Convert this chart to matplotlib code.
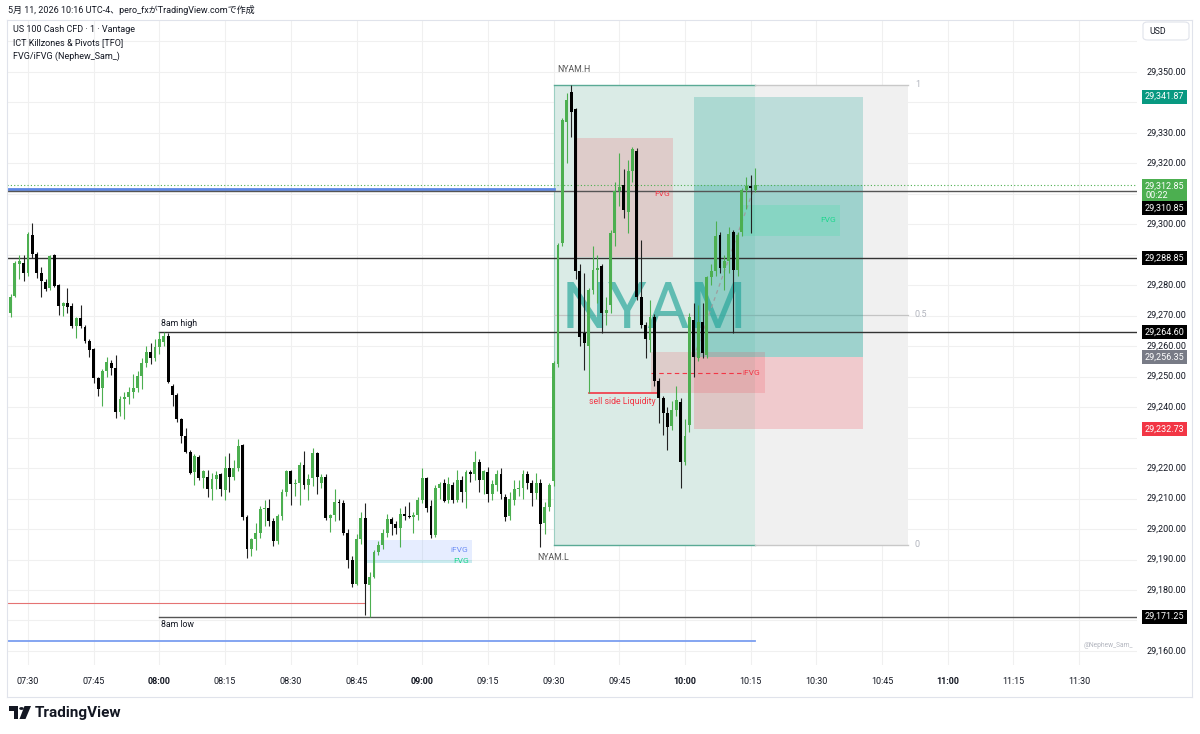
import numpy as np
import matplotlib
matplotlib.use("Agg")
import matplotlib.pyplot as plt
from matplotlib.patches import Rectangle, Circle, Polygon, FancyBboxPatch
from matplotlib.transforms import blended_transform_factory

plt.rcParams['font.family'] = ['Roboto', 'Noto Sans CJK JP', 'DejaVu Sans']

# 1-minute candles, US 100 Cash CFD, first bar 07:26
start_time = "07:26"
opens = [29271.0, 29276.5, 29287.0, 29287.2, 29284.0, 29296.6, 29290.2, 29283.9, 29281.2, 29279.0,
         29289.9, 29280.1, 29273.2, 29274.0, 29273.2, 29266.5, 29269.1, 29266.4, 29261.8, 29259.0,
         29249.4, 29246.4, 29251.9, 29254.5, 29252.7, 29238.5, 29242.8, 29243.2, 29244.8, 29246.4,
         29250.1, 29254.6, 29258.2, 29256.0, 29259.8, 29261.5, 29263.2, 29247.0, 29244.0, 29236.0,
         29230.5, 29225.4, 29218.7, 29223.8, 29216.7, 29217.0, 29213.3, 29216.5, 29218.0, 29212.8,
         29220.0, 29217.2, 29220.0, 29227.6, 29204.1, 29193.3, 29196.6, 29198.8, 29206.5, 29207.0,
         29202.8, 29196.0, 29204.3, 29212.0, 29218.9, 29214.8, 29215.0, 29221.0, 29214.5, 29216.6,
         29224.8, 29215.0, 29217.0, 29203.5, 29204.5, 29209.0, 29208.6, 29198.6, 29190.0, 29182.0,
         29196.6, 29203.5, 29181.7, 29184.4, 29192.6, 29194.7, 29198.6, 29203.2, 29201.5, 29200.3,
         29204.9, 29204.3, 29204.0, 29204.5, 29209.5, 29216.8, 29207.6, 29198.1, 29213.4, 29215.0,
         29209.5, 29214.5, 29209.5, 29216.0, 29212.0, 29218.6, 29218.0, 29222.0, 29216.0, 29218.8,
         29211.5, 29214.5, 29218.0, 29210.6, 29204.2, 29209.5, 29213.1, 29213.4, 29218.0, 29215.0,
         29211.7, 29215.0, 29201.9, 29207.3, 29215.9, 29254.2, 29294.0, 29333.7, 29343.5, 29337.7,
         29284.5, 29264.2, 29260.0, 29278.4, 29285.0, 29286.3, 29271.0, 29273.5, 29297.2, 29310.9,
         29312.9, 29304.1, 29317.5, 29324.1, 29276.0, 29267.0, 29261.9, 29269.5, 29248.7, 29242.9,
         29238.0, 29233.7, 29239.0, 29241.8, 29222.1, 29234.1, 29268.6, 29256.1, 29268.0, 29257.1,
         29282.6, 29284.5, 29296.6, 29285.7, 29288.0, 29297.4, 29285.0, 29297.4, 29311.3, 29312.6,
         29311.3]
highs = [29277.0, 29288.0, 29290.0, 29290.0, 29297.6, 29300.3, 29291.0, 29286.0, 29282.0, 29290.0,
         29290.2, 29280.5, 29274.5, 29279.0, 29274.0, 29269.5, 29273.5, 29267.0, 29262.5, 29259.5,
         29250.0, 29252.5, 29256.5, 29255.5, 29257.0, 29243.5, 29245.0, 29246.5, 29251.0, 29252.0,
         29256.0, 29260.0, 29261.0, 29262.5, 29264.6, 29264.6, 29264.2, 29247.5, 29244.5, 29236.5,
         29233.0, 29226.0, 29224.5, 29224.2, 29219.5, 29219.5, 29218.5, 29219.0, 29218.5, 29224.0,
         29225.0, 29222.5, 29229.5, 29228.0, 29204.5, 29197.0, 29202.0, 29207.5, 29209.5, 29210.0,
         29203.5, 29205.0, 29213.0, 29219.5, 29219.5, 29216.5, 29222.0, 29225.7, 29218.0, 29226.5,
         29225.3, 29218.0, 29218.0, 29205.0, 29213.0, 29210.0, 29209.5, 29200.0, 29191.0, 29198.5,
         29205.5, 29208.5, 29186.0, 29193.0, 29196.0, 29200.0, 29205.0, 29204.0, 29202.5, 29207.0,
         29207.5, 29209.0, 29205.5, 29210.5, 29220.0, 29217.0, 29209.5, 29214.5, 29215.5, 29216.5,
         29217.0, 29215.5, 29219.5, 29217.5, 29219.5, 29219.5, 29225.5, 29223.0, 29219.5, 29220.5,
         29216.0, 29219.5, 29220.0, 29211.5, 29212.0, 29216.0, 29216.0, 29219.5, 29219.0, 29216.0,
         29218.5, 29216.5, 29209.0, 29215.0, 29255.0, 29294.0, 29335.0, 29343.0, 29345.7, 29338.0,
         29287.0, 29284.0, 29279.0, 29293.0, 29290.0, 29287.0, 29276.0, 29298.0, 29314.0, 29323.3,
         29318.0, 29321.0, 29325.3, 29325.0, 29294.8, 29268.0, 29275.0, 29270.5, 29249.5, 29243.5,
         29240.0, 29242.0, 29247.0, 29243.0, 29236.0, 29271.0, 29274.0, 29273.5, 29274.0, 29283.0,
         29287.0, 29301.0, 29297.5, 29290.0, 29299.0, 29298.0, 29297.5, 29312.0, 29315.5, 29316.0,
         29318.5]
lows = [29269.5, 29276.0, 29282.0, 29281.5, 29283.0, 29289.0, 29282.5, 29276.0, 29278.0, 29278.5,
        29279.5, 29270.2, 29270.0, 29271.0, 29266.0, 29262.7, 29266.0, 29261.0, 29256.5, 29248.0,
        29243.5, 29240.5, 29250.0, 29250.5, 29236.5, 29237.0, 29236.0, 29241.0, 29243.0, 29245.0,
        29246.0, 29253.0, 29254.0, 29255.0, 29257.5, 29260.0, 29248.0, 29240.4, 29235.0, 29228.2,
        29225.0, 29218.0, 29214.5, 29216.0, 29213.5, 29210.5, 29209.5, 29213.0, 29211.0, 29209.5,
        29212.0, 29216.0, 29219.0, 29203.0, 29190.4, 29191.0, 29193.0, 29197.0, 29201.0, 29201.0,
        29194.5, 29195.0, 29203.0, 29211.0, 29208.0, 29211.0, 29208.0, 29213.0, 29209.5, 29214.0,
        29211.5, 29213.5, 29203.0, 29199.0, 29202.5, 29203.0, 29198.0, 29187.2, 29181.0, 29181.5,
        29195.0, 29171.8, 29171.25, 29184.0, 29191.5, 29193.5, 29197.5, 29198.0, 29198.5, 29194.2,
        29203.0, 29203.5, 29198.7, 29203.0, 29208.5, 29205.5, 29197.0, 29197.5, 29210.0, 29209.0,
        29208.5, 29208.5, 29209.0, 29209.0, 29207.0, 29215.5, 29216.0, 29212.0, 29211.5, 29209.0,
        29209.5, 29212.5, 29210.0, 29202.5, 29203.0, 29208.0, 29211.0, 29210.0, 29213.0, 29207.5,
        29210.0, 29194.2, 29198.5, 29206.0, 29214.0, 29253.0, 29293.0, 29320.0, 29328.7, 29282.0,
        29260.0, 29252.2, 29244.5, 29277.0, 29274.0, 29264.3, 29267.0, 29271.0, 29293.0, 29306.0,
        29302.0, 29297.0, 29314.0, 29275.0, 29266.0, 29256.0, 29258.0, 29247.0, 29234.8, 29231.0,
        29226.0, 29232.5, 29237.0, 29213.4, 29221.0, 29232.0, 29250.0, 29255.0, 29256.0, 29256.0,
        29280.0, 29283.0, 29284.0, 29278.4, 29284.0, 29264.3, 29283.0, 29296.0, 29305.0, 29297.0,
        29310.5]
closes = [29276.0, 29287.3, 29287.8, 29284.0, 29296.8, 29290.2, 29283.9, 29281.5, 29278.7, 29289.6,
          29279.8, 29273.2, 29274.1, 29273.0, 29266.6, 29269.1, 29266.5, 29261.8, 29258.8, 29249.4,
          29246.1, 29251.9, 29254.9, 29252.7, 29238.5, 29242.8, 29243.2, 29244.8, 29246.4, 29250.1,
          29254.6, 29258.2, 29256.0, 29259.8, 29262.5, 29263.2, 29248.4, 29244.0, 29236.0, 29230.5,
          29225.4, 29218.3, 29224.0, 29216.7, 29219.0, 29213.3, 29216.5, 29217.7, 29213.0, 29220.0,
          29217.2, 29220.0, 29227.3, 29204.1, 29193.3, 29196.6, 29198.8, 29206.5, 29207.0, 29202.8,
          29196.0, 29204.3, 29212.0, 29218.9, 29214.8, 29215.2, 29221.0, 29214.5, 29216.5, 29224.8,
          29217.0, 29217.0, 29203.5, 29204.5, 29209.0, 29208.6, 29198.6, 29190.0, 29182.1, 29196.6,
          29203.5, 29182.1, 29184.4, 29192.6, 29194.7, 29198.6, 29203.2, 29201.5, 29200.3, 29204.9,
          29204.3, 29204.0, 29204.5, 29209.5, 29216.8, 29206.8, 29198.1, 29213.4, 29214.7, 29209.3,
          29214.8, 29209.5, 29216.0, 29212.0, 29218.6, 29218.1, 29222.0, 29216.0, 29219.1, 29211.5,
          29214.8, 29218.0, 29211.4, 29204.0, 29209.9, 29213.1, 29213.4, 29218.1, 29215.0, 29211.7,
          29215.0, 29201.6, 29207.3, 29214.5, 29254.4, 29293.2, 29334.2, 29340.7, 29336.9, 29284.8,
          29262.9, 29261.2, 29278.4, 29285.0, 29285.7, 29271.0, 29272.0, 29297.2, 29310.9, 29312.3,
          29304.7, 29317.5, 29324.6, 29276.0, 29267.0, 29262.3, 29269.5, 29248.7, 29242.9, 29238.0,
          29233.6, 29239.0, 29242.3, 29222.1, 29230.5, 29269.6, 29256.4, 29268.0, 29257.9, 29282.6,
          29284.5, 29296.3, 29285.7, 29288.0, 29296.8, 29285.0, 29296.6, 29311.3, 29312.5, 29312.0,
          29312.85]

time_ticks = ["07:30", "07:45", "08:00", "08:15", "08:30", "08:45", "09:00", "09:15", "09:30",
              "09:45", "10:00", "10:15", "10:30", "10:45", "11:00", "11:15", "11:30"]
price_ticks = [29160, 29180, 29190, 29200, 29210, 29220, 29240, 29250, 29260, 29270,
               29280, 29300, 29320, 29330, 29350]

# key levels
prev_level = 29310.85
current_price = 29312.85
level_2888 = 29288.85
am8_high = 29264.60
am8_low = 29171.25
nyam_high = 29345.7
nyam_low = 29194.8
red_level = 29175.7
blue_low_level = 29163.3
blue_high_level = 29311.4
ssl_level = 29244.5

# long position tool
entry_price = 29256.35
target_price = 29341.87
stop_price = 29232.73

# fair value gaps (start, end, top, bottom)
fvg_bear = ("09:35", "09:57", 29328.2, 29289.2)
ifvg_red = ("09:52", "10:18", 29258.2, 29244.5)
fvg_bull = ("10:13", "10:35", 29306.3, 29296.3)
ifvg_blue = ("08:47", "09:11", 29196.4, 29188.8)

axis_labels = [29341.87, 29312.85, 29310.85, 29288.85, 29264.60, 29256.35, 29232.73, 29171.25]
axis_label_colors = ['#089981', '#4caf50', '#000000', '#000000', '#000000', '#787b86', '#f23645', '#000000']
axis_label_shift = [0, -4, -12, 0, 0, 0, 0, 0]   # points, stacked labels


def tm(s):
    h, m = s.split(":")
    return int(h) * 60 + int(m)


W, H = 1200, 734


def fx(px):
    return px / W


def fy(py):
    return 1 - py / H


o = np.array(opens)
hi = np.array(highs)
lo = np.array(lows)
c = np.array(closes)
x = tm(start_time) + np.arange(len(o))

fig = plt.figure(figsize=(12, 7.34), dpi=100)
fig.patch.set_facecolor("white")
ax = fig.add_axes([fx(7), fy(665), fx(1137) - fx(7), fy(20) - fy(665)])
ax.set_xlim(445.2, 703.2)
ax.set_ylim(29155.4, 29367.0)
for s in ax.spines.values():
    s.set_visible(False)
ax.set_xticks([])
ax.set_yticks([])

# grid
for t in time_ticks:
    ax.axvline(tm(t), color="#f0f0f0", lw=0.8, zorder=0)
for p in range(29160, 29370, 10):
    ax.axhline(p, color="#f0f0f0", lw=0.8, zorder=0)

t_open = tm("09:30")
t_last = x[-1]
t_fib_end = tm("10:51")

# fib box + NYAM box
ax.add_patch(Rectangle((t_open, nyam_low), t_fib_end - t_open, nyam_high - nyam_low,
                       fc="#f0f0f0", ec="none", zorder=1))
ax.add_patch(Rectangle((t_open, nyam_low), t_last - t_open, nyam_high - nyam_low,
                       fc="#daebe6", ec="none", zorder=1.2))
ax.plot([t_open, t_open], [nyam_low, nyam_high], color="#9ccfc2", lw=0.8, zorder=1.3)
for lvl in (nyam_high, nyam_low):
    ax.plot([t_open, t_last], [lvl, lvl], color="#5aaa95", lw=1.0, zorder=1.3)
    ax.plot([t_last, t_fib_end], [lvl, lvl], color="#c8c8c8", lw=1.0, zorder=1.3)
mid = (nyam_high + nyam_low) / 2
ax.plot([t_open, t_fib_end], [mid, mid], color="#c4c4c4", lw=0.9, zorder=1.3)
for lvl, txt in ((nyam_high, "1"), (mid, "0.5"), (nyam_low, "0")):
    ax.text(t_fib_end + 1.5, lvl, txt, color="#b2b5be", fontsize=6.5, va="center", zorder=7)

# long position
t_lp0, t_lp1 = tm("10:02"), tm("10:40") + 0.6
ax.add_patch(Rectangle((t_lp0, entry_price), t_lp1 - t_lp0, target_price - entry_price,
                       fc="#26a69a", alpha=0.25, ec="none", zorder=2))
ax.add_patch(Rectangle((t_lp0, entry_price), t_lp1 - t_lp0, current_price - entry_price,
                       fc="#26a69a", alpha=0.2, ec="none", zorder=2))
ax.add_patch(Rectangle((t_lp0, stop_price), t_lp1 - t_lp0, entry_price - stop_price,
                       fc="#f23645", alpha=0.2, ec="none", zorder=2))
ax.plot([t_lp0, t_last], [entry_price, current_price], color="#9e9e9e", lw=0.9,
        ls=(0, (3, 3)), zorder=4)

# FVG boxes
def box(g, color, alpha):
    t0, t1, top, bot = g
    ax.add_patch(Rectangle((tm(t0) + 0.3, bot), tm(t1) - tm(t0), top - bot,
                           fc=color, alpha=alpha, ec="none", zorder=2.5))

box(fvg_bear, "#f23645", 0.17)
box(ifvg_red, "#f23645", 0.17)
box(fvg_bull, "#2ee59d", 0.2)
box(ifvg_blue, "#5b8cff", 0.15)
ax.add_patch(Rectangle((tm(ifvg_blue[0]) + 0.3, ifvg_blue[3]), tm(ifvg_blue[1]) - tm(ifvg_blue[0]), 1.0,
                       fc="#2ee59d", alpha=0.15, ec="none", zorder=2.5))
mid_ifvg = (ifvg_red[2] + ifvg_red[3]) / 2
ax.plot([tm(ifvg_red[0]) + 0.3, tm("10:13")], [mid_ifvg, mid_ifvg], color="#f23645", lw=0.8,
        ls=(0, (4, 3)), zorder=4)
ax.text(tm("09:57") - 0.5, 29310.0, "FVG", color="#f23645", fontsize=6, ha="right", va="center", zorder=7)
ax.text(tm("10:17") + 0.2, mid_ifvg, "iFVG", color="#f23645", fontsize=6, ha="right", va="center", zorder=7)
ax.text(tm("10:35") - 0.5, 29301.3, "FVG", color="#1fd68f", fontsize=6, ha="right", va="center", zorder=7)
ax.text(tm("09:11") - 0.4, 29193.1, "iFVG", color="#6b8cf5", fontsize=6, ha="right", va="center", zorder=7)
ax.text(tm("09:11") - 0.4, 29189.6, "FVG", color="#1fd68f", fontsize=6, ha="right", va="center", zorder=7)

# watermark
ax.text(tm("09:53"), 29272.0, "NYAM", color="#26a69a", alpha=0.68, fontsize=47,
        ha="center", va="center", zorder=3)

# levels
x0, x1 = ax.get_xlim()
ax.plot([x0, x1], [current_price, current_price], color="#4caf50", lw=0.8, ls=(0, (1, 2)), zorder=4)
ax.plot([x0, t_open], [blue_high_level, blue_high_level], color="#5b86e5", lw=2.0, zorder=4)
ax.plot([x0, x1], [prev_level, prev_level], color="#555555", lw=1.0, zorder=4.1)
ax.plot([x0, x1], [level_2888, level_2888], color="#333333", lw=1.0, zorder=4.1)
ax.plot([tm("08:00"), x1], [am8_high, am8_high], color="#333333", lw=1.0, zorder=4.1)
ax.plot([tm("08:00"), x1], [am8_low, am8_low], color="#555555", lw=1.0, zorder=4.1)
ax.plot([x0, tm("08:47")], [red_level, red_level], color="#e57373", lw=0.8, zorder=4)
ax.plot([x0, t_last], [blue_low_level, blue_low_level], color="#7b9ef0", lw=1.3, zorder=4)
ax.plot([tm("09:38"), tm("09:53") + 0.6], [ssl_level, ssl_level], color="#f23645", lw=1.2, zorder=4)

ax.text(tm("08:00") + 0.3, am8_high + 1.3, "8am high", fontsize=6.3, color="#131722", va="bottom", zorder=7)
ax.text(tm("08:00") + 0.3, am8_low - 1.2, "8am low", fontsize=6.3, color="#131722", va="top", zorder=7)
ax.text(tm("09:38"), ssl_level - 1.3, "sell side Liquidity", fontsize=6.3, color="#f23645", va="top", zorder=7)
ax.text(tm("09:30") + 0.8, nyam_high + 3.6, "NYAM.H", fontsize=6.3, color="#555555", va="bottom", zorder=7)
ax.text(tm("09:30"), nyam_low - 2.8, "NYAM.L", fontsize=6.3, color="#555555", va="top", ha="center", zorder=7)
ax.text(0.9965, 29161.8, "@Nephew_Sam_", transform=blended_transform_factory(ax.transAxes, ax.transData),
        fontsize=4.8, color="#b2b5be", ha="right", va="center", zorder=7)

# candles
up = c >= o
body_col = np.where(up, "#4caf50", "#000000")
wick_col = np.where(up, "#4caf50", "#222222")
ax.vlines(x, lo, hi, colors=wick_col, lw=0.8, zorder=5)
heights = np.maximum(np.abs(c - o), 0.35)
ax.bar(x, heights, bottom=np.minimum(o, c), width=0.66, color=body_col, lw=0, zorder=6)

# price scale
tr = blended_transform_factory(ax.transAxes, ax.transData)
xl = (1147 - 7) / 1130
for p in price_ticks:
    ax.text(xl, p, f"{p:,.2f}", transform=tr, fontsize=6.5, color="#131722",
            va="center", ha="left", clip_on=False)
xb = (1145 - 7) / 1130
for p, col, dy in zip(axis_labels, axis_label_colors, axis_label_shift):
    txt = f"{p:,.2f}"
    if p == current_price:
        txt = txt + "\n00:22"
    ax.annotate(txt, xy=(xb, p), xycoords=tr, xytext=(0, dy), textcoords="offset points",
                fontsize=6.5, color="white", ha="left", va="center", linespacing=1.1,
                bbox=dict(boxstyle="square,pad=0.28", fc=col, ec="none"), annotation_clip=False, zorder=8)

# time scale
tt = blended_transform_factory(ax.transData, fig.transFigure)
for t in time_ticks:
    bold = t.endswith(":00")
    ax.text(tm(t), fy(681), t, transform=tt, fontsize=6.5, color="#131722", ha="center", va="center",
            fontweight="bold" if bold else "normal", clip_on=False)

# frame
frame_col = "#e0e3eb"
fig.add_artist(plt.Line2D([fx(7), fx(1192)], [fy(20), fy(20)], color=frame_col, lw=0.8))
fig.add_artist(plt.Line2D([fx(7), fx(1192)], [fy(697), fy(697)], color=frame_col, lw=0.8))
fig.add_artist(plt.Line2D([fx(7), fx(7)], [fy(20), fy(697)], color=frame_col, lw=0.8))
fig.add_artist(plt.Line2D([fx(1192), fx(1192)], [fy(20), fy(697)], color=frame_col, lw=0.8))
fig.add_artist(FancyBboxPatch((fx(1143), fy(40)), fx(1189) - fx(1143), fy(22) - fy(40),
                              boxstyle="round,pad=0,rounding_size=0.004", fc="white", ec="#e0e3eb",
                              lw=0.8, transform=fig.transFigure))
fig.text(fx(1149), fy(32), "USD", fontsize=6.3, color="#131722", va="center")

# header and legend
fig.text(fx(8), fy(10), "5月 11, 2026 10:16 UTC-4、pero_fxがTradingView.comで作成", fontsize=6.5,
         color="#131722", va="center")
fig.text(fx(13), fy(30), "US 100 Cash CFD · 1 · Vantage", fontsize=6.5, color="#131722", va="center")
fig.text(fx(13), fy(43), "ICT Killzones & Pivots [TFO]", fontsize=6.5, color="#131722", va="center")
fig.text(fx(13), fy(56), "FVG/iFVG (Nephew_Sam_)", fontsize=6.5, color="#131722", va="center")

# TradingView logo
fig.add_artist(Rectangle((fx(9), fy(711)), fx(18) - fx(9), fy(706) - fy(711), fc="#131722",
                         transform=fig.transFigure))
fig.add_artist(Rectangle((fx(13.5), fy(719)), fx(18) - fx(13.5), fy(706) - fy(719), fc="#131722",
                         transform=fig.transFigure))
fig.add_artist(Circle((fx(21.5), fy(708.5)), 2.3 / W, fc="#131722", transform=fig.transFigure))
fig.add_artist(Polygon([(fx(24.5), fy(706)), (fx(31), fy(706)), (fx(25.5), fy(719)), (fx(19.5), fy(719))],
                       fc="#131722", transform=fig.transFigure))
fig.text(fx(35), fy(712.5), "TradingView", fontsize=11, fontweight="bold", color="#131722", va="center")

fig.savefig("out.png", dpi=100, facecolor="white")
